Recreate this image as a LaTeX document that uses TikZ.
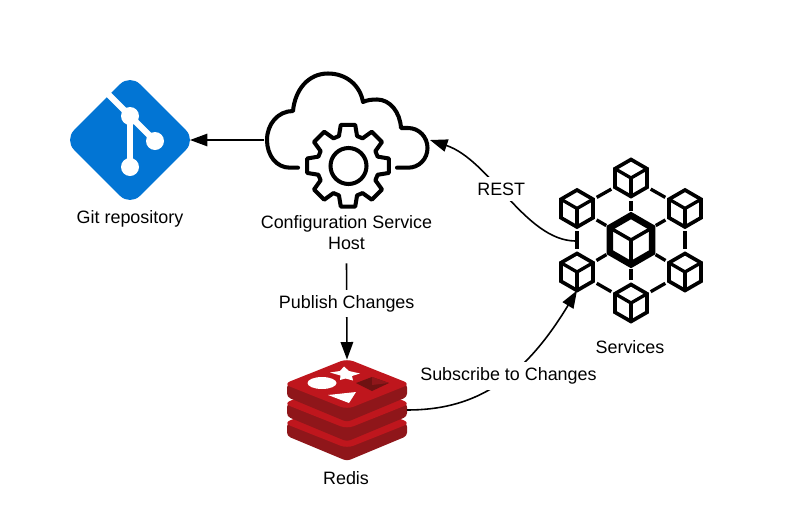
\documentclass[tikz,border=0pt]{standalone}
\usepackage{fontspec}
\setmainfont{Liberation Sans}
\usetikzlibrary{arrows.meta,shapes.geometric}
\definecolor{gitblue}{HTML}{0275D4}
\definecolor{redistop}{HTML}{BF161D}
\definecolor{redisside}{HTML}{8F161A}
\definecolor{redisdark}{HTML}{6F1212}
\tikzset{
  every node/.style={font=\fontsize{10.2}{12}\selectfont},
  icon/.style={inner sep=0pt,outer sep=0pt},
  conn/.style={-{Triangle[length=0.35cm,width=0.25cm]},line width=0.9pt},
  linelabel/.style={fill=white,inner xsep=1pt,inner ysep=3pt},
  hexcube/.style={regular polygon,regular polygon sides=6,shape border rotate=-30,draw,line width=2.1pt,
    inner sep=0pt,outer sep=0pt,minimum size=0.74cm},
  hexlink/.style={line width=1.9pt,shorten >=2.4pt,shorten <=2.4pt},
  redislayer/.style={rounded corners=2pt,fill=redisside},
  redisface/.style={rounded corners=4pt,fill=redistop}
}
\begin{document}
\begin{tikzpicture}[x=0.02cm,y=-0.02cm]
      \useasboundingbox (0,0) rectangle (790,531);
      % git
      \node [icon,minimum width=2.4cm,minimum height=2.4cm] (Git) at (130,140) {};
      \fill [gitblue,rounded corners=8pt] (64.2,140) -- (130,74.2) -- (195.8,140) -- (130,205.8) -- cycle;
      \draw [white,line width=3.6pt] (106,92) -- (155,141);
      \draw [white,line width=3pt] (130,116) -- (130,167);
      \fill [white] (130,116) circle (9) (155,141) circle (9) (130,167) circle (9);
      \node (GitText) at (130,219) {Git repository};
      % cloud and gear
      \node [icon,minimum width=3.32cm,minimum height=2.76cm] (Cloud) at (347,140) {};
      \draw [line width=2.3pt,line cap=round,line join=round] (298,167.7) -- (290,167.7)
        .. controls (276,167.7) and (267,155) .. (267,140)
        .. controls (267,124) and (278,111) .. (293,111)
        .. controls (295,90) and (308,73.5) .. (328,73.5)
        .. controls (346,73.5) and (360,85) .. (363,102)
        .. controls (367,100) and (372,99.5) .. (377,99.5)
        .. controls (390,99.5) and (400,112) .. (401,128) -- (408,128)
        .. controls (419,128) and (427.5,137) .. (427.5,148)
        .. controls (427.5,159) and (419,167.7) .. (408,167.7) -- (397,167.7);
      \draw [line width=2.3pt,line join=round]
        \foreach \a [count=\i] in {0,45,...,315} {
          \ifnum\i=1 ({348+31*cos(\a-17)},{165.7+31*sin(\a-17)}) \else -- ({348+31*cos(\a-17)},{165.7+31*sin(\a-17)}) \fi
          -- ({348+41.5*cos(\a-10)},{165.7+41.5*sin(\a-10)})
          -- ({348+41.5*cos(\a+10)},{165.7+41.5*sin(\a+10)})
          -- ({348+31*cos(\a+17)},{165.7+31*sin(\a+17)})
        } -- cycle;
      \draw [line width=2.3pt] (348.5,166) circle (18);
      \node [align=center,inner ysep=7.6pt,inner xsep=0pt] (CloudText) at (346.5,232.5) {Configuration Service\\Host};
      % redis
      \node [icon,minimum width=2.4cm,minimum height=2.02cm] (Redis) at (347,410) {};
      \foreach \y in {39,19.5,0} {
        \fill [redislayer] (287,{384+\y}) -- (347,{360+\y}) -- (407,{384+\y}) -- (407,{397+\y}) -- (347,{422+\y}) -- (287,{397+\y}) -- cycle;
        \fill [redisface] (283.5,{384+\y}) -- (347,{358.7+\y}) -- (410.5,{384+\y}) -- (347,{409.3+\y}) -- cycle;
      }
      \fill [white] (322,383) ellipse (14.5 and 6);
      \fill [white] (344,366.5) -- (349,371) -- (360,373.5) -- (352,376) -- (353,380.5) -- (345.5,378.5)
        -- (340,380) -- (340.5,375.5) -- (330,372.5) -- (340,371) -- cycle;
      \fill [white] (328,395) -- (356,392) -- (349,403) -- cycle;
      \fill [redisdark] (356,383) -- (372,377) -- (389,383) -- (372,391) -- cycle;
      \fill [redisside] (372,377) -- (389,383) -- (372,385) -- cycle;
      \node (RedisText) at (346,478) {Redis};
      % services
      \node [hexcube] (UM) at (631,178) {};
      \node [hexcube] (UL) at (577,208.5) {};
      \node [hexcube] (UR) at (685,208.5) {};
      \node [hexcube] (LL) at (577,272) {};
      \node [hexcube] (LR) at (685,272) {};
      \node [hexcube] (LM) at (631,303) {};
      \node [hexcube,line width=3.7pt,minimum size=0.98cm] (Hub) at (631,240) {};
      \foreach \c in {UM,UL,UR,LL,LR,LM} {
        \foreach \k in {1,3,5} \draw [line width=1.9pt] (\c.center) -- (\c.corner \k);
      }
      \foreach \k in {1,3,5} \draw [line width=2pt] (Hub.center) -- (Hub.corner \k);
      \foreach \a/\b in {UM/UL,UM/UR,UL/LL,UR/LR,LL/LM,LR/LM} \draw [hexlink] (\a) -- (\b);
      \foreach \c in {UM,UL,UR,LL,LR,LM} \draw [hexlink] (Hub) -- (\c);
      \node (ServicesText) at (630,347) {Services};
      \coordinate (RestFoot) at (575,241);
      % connectors
      \draw [conn] (Cloud.west) to (Git.east);
      \draw [conn] (RestFoot) .. controls (525,240) and (490,160) .. node [linelabel,pos=0.55,xshift=1pt,yshift=1pt] (RestText) {REST} (Cloud.east);
      \draw [conn] (CloudText.south) to node [linelabel,pos=0.42] (PublishText) {Publish Changes} (Redis.north);
      \draw [conn] (Redis.east) .. controls (470,410) and (520,385) .. node [linelabel,pos=0.58,xshift=0.6pt] (SubscribeText) {Subscribe to Changes} (LL.south);
    \end{tikzpicture}
\end{document}
